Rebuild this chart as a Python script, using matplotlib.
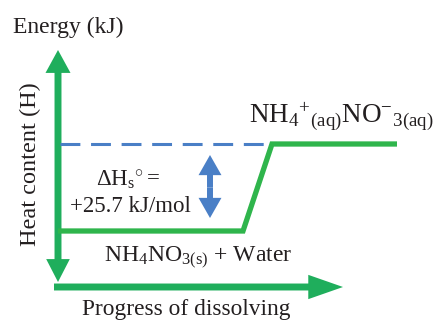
import matplotlib
matplotlib.use("Agg")
import matplotlib.pyplot as plt
from matplotlib.patches import FancyArrowPatch

plt.rcParams['font.family'] = ['Liberation Serif', 'DejaVu Serif']
plt.rcParams['mathtext.fontset'] = 'custom'
plt.rcParams['mathtext.rm'] = 'Liberation Serif'
plt.rcParams['mathtext.it'] = 'Liberation Serif:italic'
plt.rcParams['mathtext.bf'] = 'Liberation Serif:bold'

# ---- data ----
progress = [58, 243, 272, 397]          # reaction progress (arbitrary units)
energy = [0.0, 0.0, 25.7, 25.7]         # enthalpy relative to reactants (kJ/mol)
delta_h = 25.7
reactant_label = r'$\mathrm{NH_4NO_{3(s)}}$ + Water'
product_label = r'$\mathrm{NH_4{}^{+}{}_{(aq)}NO^{-}{}_{3(aq)}}$'
dh_label1 = r'$\mathrm{\Delta H_s{}^{\circ}} =$'
dh_label2 = '+25.7 kJ/mol'

GREEN_AX = '#1fae5c'
GREEN_LN = '#2fb54c'
BLUE = '#4a7fc6'
TXT = '#231f20'

W, H = 435, 322
fig = plt.figure(figsize=(W / 100, H / 100), dpi=100)
ax = fig.add_axes([0, 0, 1, 1])
ax.set_axis_off()

# y pixel mapping: pixel 231 -> 0 kJ, pixel 144 -> 25.7 kJ
def E(ypix):
    return (231 - ypix) / 87 * delta_h

ax.set_xlim(0, W)
ax.set_ylim(E(H), E(0))

def simple_arrow(p0, p1, color, hl, hw, tw):
    a = FancyArrowPatch(p0, p1, arrowstyle=f'simple,head_length={hl},head_width={hw},tail_width={tw}',
                        mutation_scale=1, color=color, lw=0, shrinkA=0, shrinkB=0)
    ax.add_patch(a)

# vertical axis (double headed)
ymid = E(166)
simple_arrow((58, ymid), (58, E(50)), GREEN_AX, 16.5, 18, 5)
simple_arrow((58, ymid), (58, E(282)), GREEN_AX, 16.5, 17, 5)
# horizontal axis
simple_arrow((54, E(287)), (343, E(287)), GREEN_AX, 25, 17.5, 5)

# dashed product level
ax.plot([60, progress[2]], [energy[2], energy[2]], color=BLUE, lw=2.2,
        dashes=(6.5, 3.5), solid_capstyle='butt')

# energy profile
ax.plot(progress, energy, color=GREEN_LN, lw=3.8, solid_joinstyle='miter', solid_capstyle='butt')

# delta H double arrow
mid = delta_h / 2
simple_arrow((210, mid), (210, E(155)), BLUE, 14.5, 16.5, 4.3)
simple_arrow((210, mid), (210, E(218)), BLUE, 14.5, 16.5, 4.3)

# texts
ax.text(13, E(27), 'Energy (kJ)', fontsize=17, ha='left', va='center', color=TXT)
ax.text(30, E(164), 'Heat content (H)', fontsize=17.5, rotation=90, ha='center', va='center', color=TXT)
ax.text(198, E(258), reactant_label, fontsize=17, ha='center', va='center', color=TXT)
ax.text(186, E(310), 'Progress of dissolving', fontsize=16.8, ha='center', va='center', color=TXT)
ax.text(128, E(180), dh_label1, fontsize=16.5, ha='center', va='center', color=TXT)
ax.text(130, E(206), dh_label2, fontsize=16.5, ha='center', va='center', color=TXT)
ax.text(341, E(117), product_label, fontsize=19.5, ha='center', va='center', color=TXT)

fig.savefig('out.png', dpi=100, facecolor='white')
